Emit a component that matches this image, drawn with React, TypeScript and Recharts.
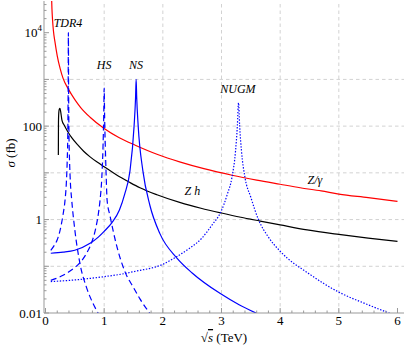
import React from "react";
import { LineChart, Line, XAxis, YAxis, ReferenceLine, ReferenceDot } from "recharts";

// [sqrt(s) in TeV, sigma in fb]
const zGamma = [
  [0.1, 90000], [0.105, 50000], [0.11, 32000], [0.12, 19000], [0.135, 11000], [0.16, 6500],
  [0.2, 3200], [0.25, 1700], [0.3, 1050], [0.39, 620], [0.5, 370], [0.6, 250], [0.76, 155],
  [1.0, 89], [1.25, 57], [1.53, 39], [1.9, 25], [2.3, 17], [2.7, 12.3], [3.18, 8.9], [3.6, 7],
  [4.0, 5.7], [4.34, 4.8], [4.7, 4.1], [5.0, 3.5], [5.5, 2.95], [6.0, 2.45],
];

const zh = [
  [0.219, 24], [0.221, 120], [0.226, 190], [0.235, 230], [0.247, 240], [0.26, 200], [0.28, 135],
  [0.32, 104], [0.38, 76], [0.45, 56], [0.55, 39.5], [0.65, 29], [0.76, 22], [0.88, 17],
  [1.0, 13.5], [1.2, 9.2], [1.44, 6.2], [1.61, 4.8], [1.9, 3.4], [2.3, 2.3], [2.65, 1.75],
  [3.0, 1.38], [3.33, 1.12], [3.66, 0.93], [4.0, 0.77], [4.46, 0.6], [5.0, 0.48], [5.5, 0.4],
  [6.0, 0.34],
];

const tdr4 = [
  [0.09, 0.22], [0.15, 0.28], [0.2, 0.37], [0.25, 0.6], [0.3, 1.3], [0.333, 2.6], [0.355, 6],
  [0.37, 18], [0.38, 70], [0.386, 600], [0.39, 10000], [0.394, 600], [0.4, 70], [0.41, 18],
  [0.425, 6], [0.447, 2.6], [0.5, 0.6], [0.59, 0.11], [0.7, 0.035], [0.8, 0.017], [0.9, 0.0098],
];

const hs = [
  [0.09, 0.05], [0.2, 0.056], [0.3, 0.064], [0.4, 0.076], [0.5, 0.094], [0.59, 0.12], [0.7, 0.19],
  [0.79, 0.33], [0.85, 0.6], [0.9, 1.3], [0.93, 2.6], [0.96, 8], [0.98, 35], [0.992, 150],
  [1.0, 650], [1.008, 150], [1.02, 35], [1.035, 8], [1.05, 2.6], [1.1, 1.2], [1.2, 0.32],
  [1.357, 0.075], [1.5, 0.035], [1.61, 0.02], [1.78, 0.0098],
];

const ns = [
  [0.09, 0.19], [0.3, 0.2], [0.5, 0.22], [0.76, 0.31], [0.9, 0.42], [1.0, 0.56], [1.13, 0.85],
  [1.26, 1.6], [1.35, 3.5], [1.44, 11], [1.51, 100], [1.535, 400], [1.545, 1000], [1.555, 400],
  [1.58, 100], [1.66, 11], [1.78, 2.0], [1.95, 0.5], [2.24, 0.15], [2.5, 0.072], [2.98, 0.026],
  [3.3, 0.015], [3.6, 0.0098],
];

const nugm = [
  [0.09, 0.047], [0.5, 0.051], [1.0, 0.06], [1.3, 0.068], [1.61, 0.082], [1.78, 0.09], [2.0, 0.11],
  [2.21, 0.154], [2.45, 0.24], [2.665, 0.4], [2.85, 0.8], [2.98, 1.38], [3.1, 3.5], [3.18, 8.2],
  [3.24, 30], [3.27, 100], [3.29, 316], [3.31, 100], [3.34, 30], [3.4, 8], [3.5, 3.0], [3.63, 1.0],
  [3.8, 0.42], [4.0, 0.21], [4.5, 0.068], [5.0, 0.028], [5.5, 0.015], [5.9, 0.0095],
];

// curve labels: [x, y at baseline, text]
const curveLabels: [number, number, string][] = [
  [0.383, 13200, "TDR4"],
  [1.0, 1670, "HS"],
  [1.543, 1670, "NS"],
  [3.28, 512, "NUGM"],
  [2.505, 3.36, "Z h"],
  [4.593, 5.9, "Z/γ"],
];

const xTicks = Array.from({ length: 31 }, (_, i) => +(i * 0.2).toFixed(1));
const xGrid = [1, 2, 3, 4, 5];
const yGrid = [0.1, 1, 10, 100, 1000];
const yTicks = [-2, -1, 0, 1, 2, 3, 4]
  .flatMap((d) => [1, 2, 3, 4, 5, 6, 7, 8, 9].map((m) => +(m * Math.pow(10, d)).toPrecision(3)))
  .filter((v) => v < 47000);
const yLabels: Record<string, string> = { "-2": "0.01", "0": "1", "2": "100", "4": "10" };

const toPts = (arr: number[][]) => arr.map(([x, y]) => ({ x, y }));

const FRAME = "#999";
const GRID = "#d2d2d2";
const BLUE = "#0000ff";
const FONT = "'Liberation Serif', 'Times New Roman', serif";

const isInt = (v: number) => Math.abs(v - Math.round(v)) < 1e-6;

const BottomTick = (p: any) => {
  const v = p.payload.value;
  const major = isInt(v);
  return (
    <g>
      <line x1={p.x} y1={p.y} x2={p.x} y2={p.y - (major ? 5 : 2.5)} stroke={FRAME} />
      {major && (
        <text x={p.x} y={p.y + 12} textAnchor="middle" fontSize={13} style={{ fontFamily: FONT }} fill="#000">
          {v}
        </text>
      )}
    </g>
  );
};

const TopTick = (p: any) => {
  const major = isInt(p.payload.value);
  return <line x1={p.x} y1={p.y} x2={p.x} y2={p.y + (major ? 5 : 2.5)} stroke={FRAME} />;
};

const LeftTick = (p: any) => {
  const e = Math.log10(p.payload.value);
  const major = isInt(e);
  const lab = major ? yLabels[String(Math.round(e))] : undefined;
  return (
    <g>
      <line x1={p.x} y1={p.y} x2={p.x + (major ? 5 : 2.5)} y2={p.y} stroke={FRAME} />
      {lab && (
        <text x={p.x - 2} y={p.y + 4.5} textAnchor="end" fontSize={13} style={{ fontFamily: FONT }} fill="#000">
          {lab}
          {Math.round(e) === 4 && (
            <tspan dy={-6} fontSize={9}>
              4
            </tspan>
          )}
        </text>
      )}
    </g>
  );
};

const RightTick = (p: any) => {
  const major = isInt(Math.log10(p.payload.value));
  return <line x1={p.x} y1={p.y} x2={p.x - (major ? 5 : 2.5)} y2={p.y} stroke={FRAME} />;
};

const labelShape = (text: string) => (p: any) => (
  <text x={p.cx} y={p.cy} textAnchor="middle" fontSize={12} fontStyle="italic" style={{ fontFamily: FONT }} fill="#000">
    {text}
  </text>
);

export default function App() {
  return (
    <div style={{ position: "absolute", left: 0, top: 0, width: 407, height: 346, background: "#fff" }}>
      <LineChart width={407} height={346} margin={{ top: 1, right: 3, bottom: 0, left: 0 }}>
        <XAxis
          type="number"
          dataKey="x"
          domain={[-0.0256, 6.111]}
          allowDataOverflow
          ticks={xTicks}
          interval={0}
          height={33}
          tickSize={0}
          tickMargin={0}
          tick={BottomTick}
          axisLine={{ stroke: FRAME }}
        />
        <XAxis
          xAxisId="top"
          orientation="top"
          type="number"
          domain={[-0.0256, 6.111]}
          allowDataOverflow
          ticks={xTicks}
          interval={0}
          height={0}
          tickSize={0}
          tickMargin={0}
          tick={TopTick}
          axisLine={{ stroke: FRAME }}
        />
        <YAxis
          type="number"
          scale="log"
          domain={[0.01, 47700]}
          allowDataOverflow
          ticks={yTicks}
          interval={0}
          width={44}
          tickSize={0}
          tickMargin={0}
          tick={LeftTick}
          axisLine={{ stroke: FRAME }}
        />
        <YAxis
          yAxisId="right"
          orientation="right"
          type="number"
          scale="log"
          domain={[0.01, 47700]}
          allowDataOverflow
          ticks={yTicks}
          interval={0}
          width={0}
          tickSize={0}
          tickMargin={0}
          tick={RightTick}
          axisLine={{ stroke: FRAME }}
        />
        {xGrid.map((v) => (
          <ReferenceLine key={"gx" + v} x={v} stroke={GRID} strokeDasharray="3.5 3" />
        ))}
        {yGrid.map((v) => (
          <ReferenceLine key={"gy" + v} y={v} stroke={GRID} strokeDasharray="3.5 3" />
        ))}
        <Line data={toPts(zGamma)} dataKey="y" type="monotone" stroke="#ff0000" strokeWidth={1.2} dot={false} isAnimationActive={false} />
        <Line data={toPts(zh)} dataKey="y" type="monotone" stroke="#000" strokeWidth={1.2} dot={false} isAnimationActive={false} />
        <Line data={toPts(tdr4)} dataKey="y" type="monotone" stroke={BLUE} strokeWidth={1.2} strokeDasharray="6 3.5" dot={false} isAnimationActive={false} />
        <Line data={toPts(hs)} dataKey="y" type="monotone" stroke={BLUE} strokeWidth={1.2} strokeDasharray="6 3.5" dot={false} isAnimationActive={false} />
        <Line data={toPts(ns)} dataKey="y" type="monotone" stroke={BLUE} strokeWidth={1.2} dot={false} isAnimationActive={false} />
        <Line data={toPts(nugm)} dataKey="y" type="monotone" stroke={BLUE} strokeWidth={1.2} strokeDasharray="1.4 1.6" dot={false} isAnimationActive={false} />
        {curveLabels.map(([x, y, t]) => (
          <ReferenceDot key={t} x={x} y={y} r={0} shape={labelShape(t)} />
        ))}
      </LineChart>
      <svg width={407} height={346} style={{ position: "absolute", left: 0, top: 0, pointerEvents: "none" }}>
        <text transform="rotate(-90)" x={-153} y={15} textAnchor="middle" fontSize={13} style={{ fontFamily: FONT }} fill="#000">
          <tspan fontStyle="italic">σ</tspan> (fb)
        </text>
        <text x={224} y={342} textAnchor="middle" fontSize={13} style={{ fontFamily: FONT }} fill="#000">
          √<tspan fontStyle="italic" textDecoration="overline">s</tspan> (TeV)
        </text>
      </svg>
    </div>
  );
}
